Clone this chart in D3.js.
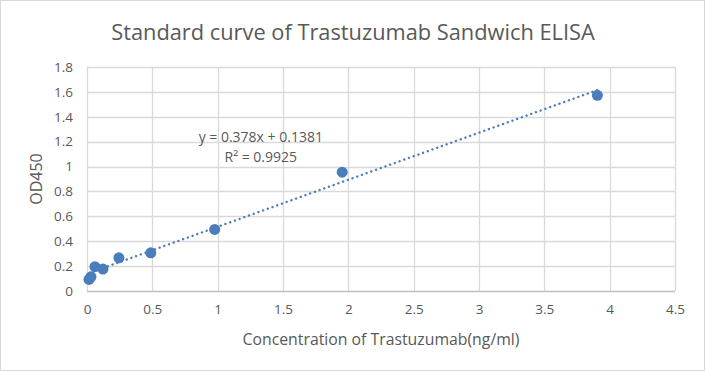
<!DOCTYPE html>
<html>
<head>
<meta charset="utf-8">
<script src="https://cdn.jsdelivr.net/npm/d3@7"></script>
<style>
  body { margin: 0; background: #fff; }
  text { font-family: "Open Sans", "Noto Sans", sans-serif; fill: #595959; }
</style>
</head>
<body>
<div id="chart"></div>
<script>
// standard curve data (serial dilution)
var concentration = [0.0153, 0.0305, 0.061, 0.122, 0.244, 0.488, 0.977, 1.953, 3.906];
var od450 = [0.093, 0.114, 0.195, 0.176, 0.267, 0.307, 0.495, 0.955, 1.572];
var xTicks = [0, 0.5, 1, 1.5, 2, 2.5, 3, 3.5, 4, 4.5];
var yTicks = [0, 0.2, 0.4, 0.6, 0.8, 1, 1.2, 1.4, 1.6, 1.8];
var slope = 0.378, intercept = 0.1381, r2 = 0.9925;

var svgWidth = 706, svgHeight = 372;
var margin = { top: 67, right: 31, bottom: 81, left: 87 };
var chartWidth = svgWidth - margin.left - margin.right;
var chartHeight = svgHeight - margin.top - margin.bottom;

var svg = d3.select("#chart").append("svg")
  .attr("width", svgWidth)
  .attr("height", svgHeight);

// outer frame
svg.append("rect")
  .attr("x", 0.5).attr("y", 0.5)
  .attr("width", svgWidth - 2).attr("height", svgHeight - 2)
  .attr("fill", "#fff")
  .attr("stroke", "#d9d9d9");

var chartGroup = svg.append("g")
  .attr("transform", `translate(${margin.left}, ${margin.top})`);

var xScale = d3.scaleLinear().domain([0, 4.5]).range([0, chartWidth]);
var yScale = d3.scaleLinear().domain([0, 1.8]).range([chartHeight, 0]);

// gridlines
chartGroup.append("g")
  .selectAll("line.vg")
  .data(xTicks)
  .enter().append("line")
  .attr("x1", d => Math.round(xScale(d)) + 0.5)
  .attr("x2", d => Math.round(xScale(d)) + 0.5)
  .attr("y1", 0).attr("y2", chartHeight)
  .attr("stroke", "#d9d9d9").attr("stroke-width", 1.3);

chartGroup.append("g")
  .selectAll("line.hg")
  .data(yTicks)
  .enter().append("line")
  .attr("y1", d => Math.round(yScale(d)) + 0.5)
  .attr("y2", d => Math.round(yScale(d)) + 0.5)
  .attr("x1", 0).attr("x2", chartWidth)
  .attr("stroke", d => d === 0 ? "#bfbfbf" : "#d9d9d9").attr("stroke-width", 1.3);

// axes (labels only)
var xAxis = d3.axisBottom(xScale).tickValues(xTicks).tickSize(0).tickPadding(13)
  .tickFormat(d3.format("~g"));
var yAxis = d3.axisLeft(yScale).tickValues(yTicks).tickSize(0).tickPadding(14)
  .tickFormat(d3.format("~g"));

chartGroup.append("g")
  .attr("transform", `translate(0,${chartHeight})`)
  .call(xAxis)
  .call(g => g.select(".domain").remove())
  .selectAll("text").style("font-size", "13.5px").attr("fill", "#595959");

chartGroup.append("g")
  .call(yAxis)
  .call(g => g.select(".domain").remove())
  .selectAll("text").style("font-size", "13.5px").attr("fill", "#595959");

// trendline
var xMin = d3.min(concentration), xMax = d3.max(concentration);
var line = d3.line().x(d => xScale(d)).y(d => yScale(slope * d + intercept));
chartGroup.append("path")
  .datum([xMin, xMax])
  .attr("d", line)
  .attr("fill", "none")
  .attr("stroke", "#4a7ebb")
  .attr("stroke-width", 2.4)
  .attr("stroke-linecap", "round")
  .attr("stroke-dasharray", "0.1 4.9");

// points
chartGroup.selectAll("circle")
  .data(concentration)
  .enter().append("circle")
  .attr("cx", d => xScale(d))
  .attr("cy", (d, i) => yScale(od450[i]))
  .attr("r", 5.5)
  .attr("fill", "#4a7ebb");

// equation
chartGroup.append("text")
  .attr("x", xScale(1.33)).attr("y", yScale(1.2))
  .attr("text-anchor", "middle")
  .style("font-size", "14px")
  .text(`y = ${slope}x + ${intercept}`);
chartGroup.append("text")
  .attr("x", xScale(1.33)).attr("y", yScale(1.04))
  .attr("text-anchor", "middle")
  .style("font-size", "14px")
  .text(`R² = ${r2}`);

// title
svg.append("text")
  .attr("x", 353).attr("y", 40)
  .attr("text-anchor", "middle")
  .style("font-size", "21.8px")
  .text("Standard curve of Trastuzumab Sandwich ELISA");

// axis titles
svg.append("text")
  .attr("x", 381).attr("y", 345)
  .attr("text-anchor", "middle")
  .style("font-size", "15.8px")
  .text("Concentration of Trastuzumab(ng/ml)");

svg.append("text")
  .attr("transform", `translate(42, ${margin.top + chartHeight / 2}) rotate(-90)`)
  .attr("text-anchor", "middle")
  .style("font-size", "16px")
  .text("OD450");
</script>
</body>
</html>
